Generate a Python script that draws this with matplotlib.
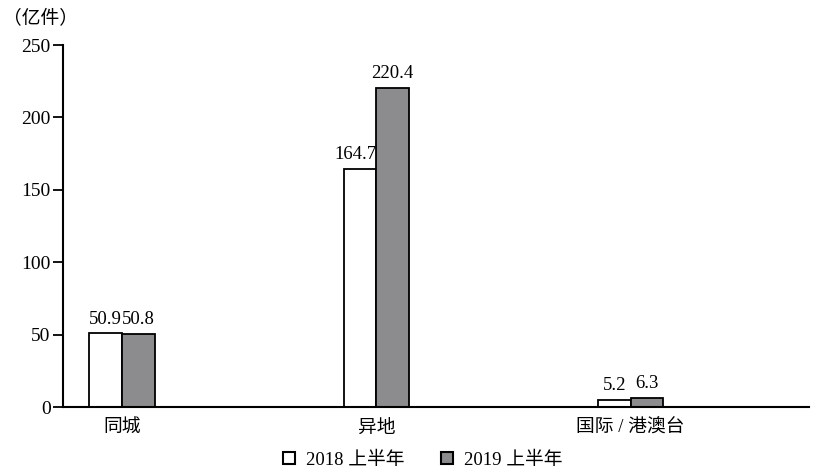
import matplotlib
matplotlib.use("Agg")
import matplotlib.pyplot as plt
from matplotlib.patches import Patch
import numpy as np

plt.rcParams['font.family'] = ['Liberation Serif', 'Noto Sans CJK SC']

categories = ['同城', '异地', '国际 / 港澳台']
series_names = ['2018 上半年', '2019 上半年']
values_2018 = [50.9, 164.7, 5.2]
values_2019 = [50.8, 220.4, 6.3]
yticks = [0, 50, 100, 150, 200, 250]

fig = plt.figure(figsize=(8.13, 4.69), dpi=100)
ax = fig.add_axes([0.0775, 0.132, 0.917, 0.772])

x = np.arange(len(categories))
w = 0.128
gray = '#8c8c8e'
b1 = ax.bar(x - w / 2, values_2018, w, color='white', edgecolor='black', linewidth=1.3)
b2 = ax.bar(x + w / 2, values_2019, w, color=gray, edgecolor='black', linewidth=1.3)

# 數值標籤 (左邊的柱子若比右邊矮很多, 標籤靠右對齊避免壓到灰柱)
for i, r in enumerate(b1):
    v = values_2018[i]
    if values_2019[i] - v > 20:
        ax.text(r.get_x() + r.get_width(), v + 4, f'{v}', ha='right', va='bottom', fontsize=13.5)
    else:
        ax.text(r.get_x() + r.get_width() / 2, v + 4, f'{v}', ha='center', va='bottom', fontsize=13.5)
for r, v in zip(b2, values_2019):
    ax.text(r.get_x() + r.get_width() / 2, v + 4, f'{v}', ha='center', va='bottom', fontsize=13.5)

ax.set_xlim(-0.232, 2.70)
ax.set_ylim(0, 250)
ax.set_yticks(yticks)
ax.set_xticks(x)
ax.set_xticklabels(categories, fontsize=13.5)
ax.tick_params(axis='x', length=0, pad=9)
ax.tick_params(axis='y', length=7, width=1.3, labelsize=14, pad=2)
for s in ('top', 'right'):
    ax.spines[s].set_visible(False)
for s in ('left', 'bottom'):
    ax.spines[s].set_linewidth(1.5)

fig.text(0.004, 0.962, '（亿件）', fontsize=13.5, ha='left', va='center')

handles = [Patch(facecolor='white', edgecolor='black', linewidth=1.5),
           Patch(facecolor=gray, edgecolor='black', linewidth=1.5)]
fig.legend(handles, series_names, loc='lower center', bbox_to_anchor=(0.52, -0.035), ncol=2,
           frameon=False, fontsize=13.5, handlelength=0.65, handleheight=0.65,
           handletextpad=0.6, columnspacing=1.9)

fig.savefig('out.png', dpi=100)
